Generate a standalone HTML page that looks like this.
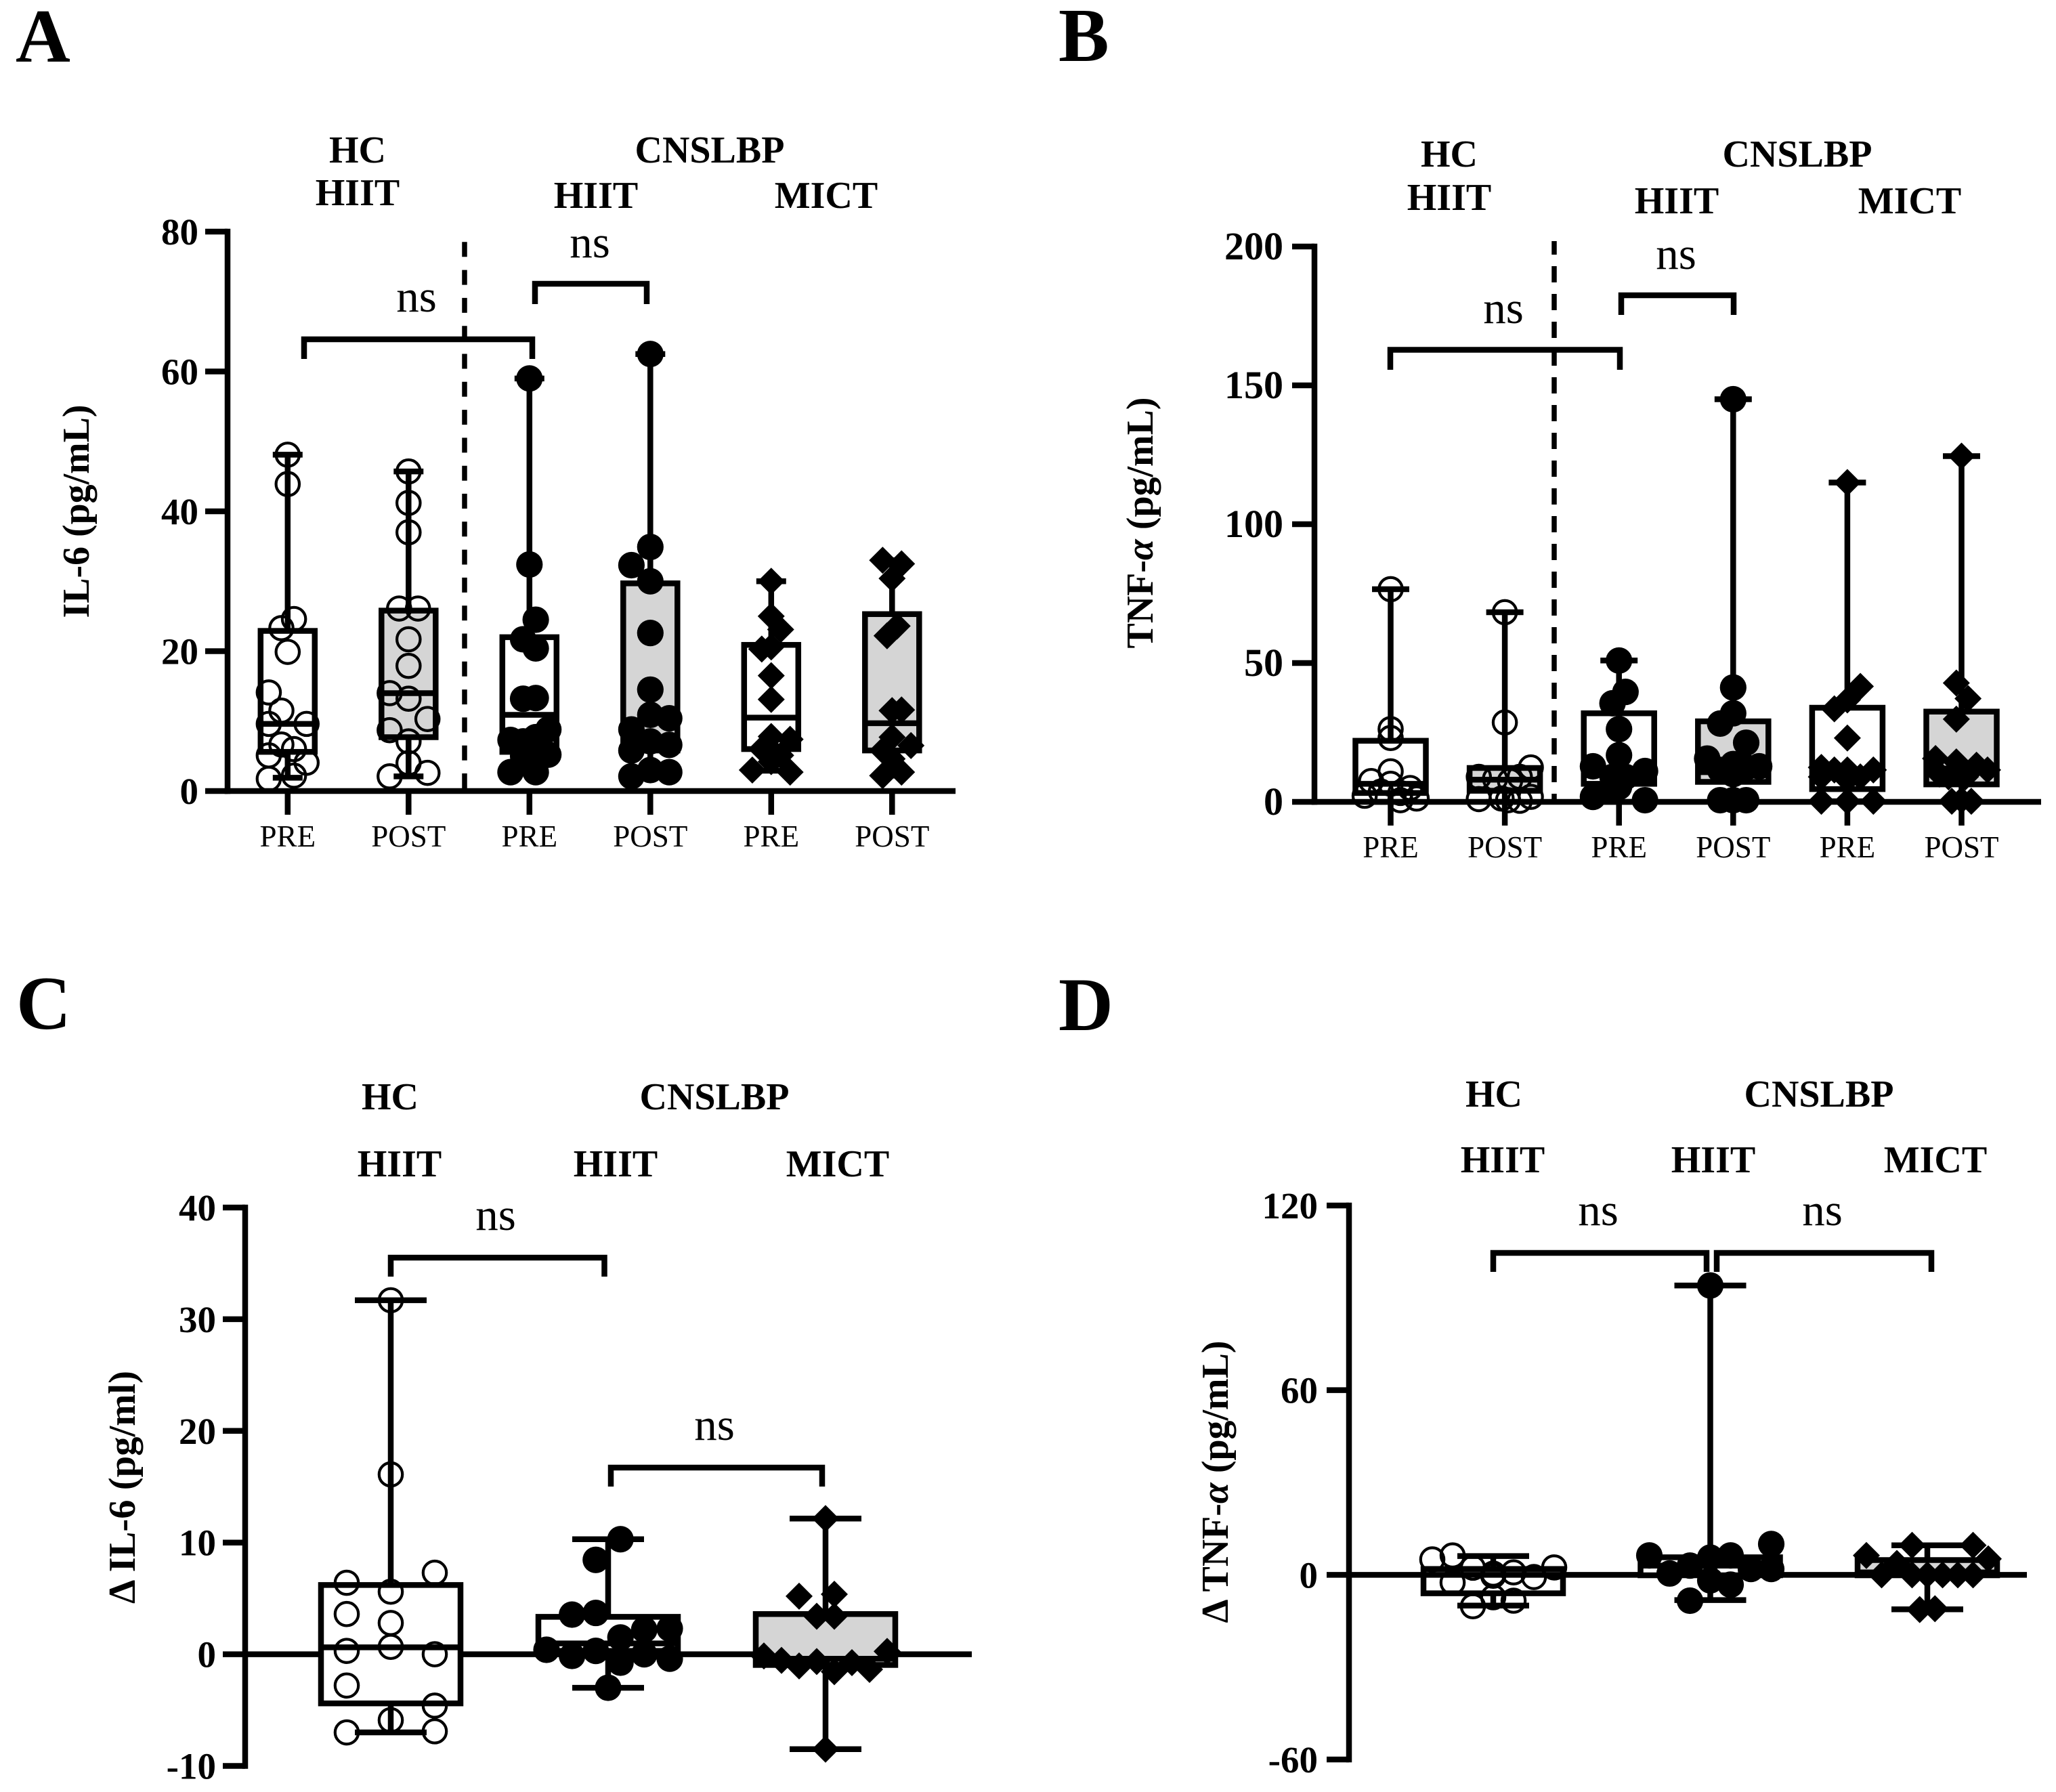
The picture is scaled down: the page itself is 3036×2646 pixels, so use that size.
<!DOCTYPE html>
<html lang="en">
<head>
<meta charset="utf-8">
<title>IL-6 and TNF-α box plots</title>
<style>
html,body{margin:0;padding:0;background:#fff}
svg{display:block}
text{font-family:"Liberation Serif",serif;fill:#000}
.hd{font-size:56px;font-weight:bold;text-anchor:middle}
.ns{font-size:67px;text-anchor:middle}
.pl{font-size:112px;font-weight:bold}
.yt{font-size:56px;font-weight:bold;text-anchor:middle}
.br{fill:none;stroke:#000;stroke-width:8.5}
</style>
</head>
<body>
<svg id="chart" xmlns="http://www.w3.org/2000/svg" width="3036" height="2646" viewBox="0 0 3036 2646">
<rect width="3036" height="2646" fill="#fff"/>

<g id="panelA">
<text class="pl" x="23" y="91">A</text>
<text class="hd" x="528" y="240">HC</text>
<text class="hd" x="528" y="303">HIIT</text>
<text class="hd" x="1048" y="240">CNSLBP</text>
<text class="hd" x="880" y="307">HIIT</text>
<text class="hd" x="1220" y="307">MICT</text>
<text class="yt" transform="translate(131 755) rotate(-90)" textLength="315" lengthAdjust="spacingAndGlyphs">IL-6 (pg/mL)</text>
<line x1="686" y1="342" x2="686" y2="1168" stroke="#000" stroke-width="7.5" stroke-dasharray="22 19.3" stroke-dashoffset="26"/>
<path class="br" d="M449 530V501H786V530"/>
<path class="br" d="M790 449V419H955V449"/>
<text class="ns" x="615" y="460">ns</text>
<text class="ns" x="871" y="380">ns</text>
</g>

<g id="panelB">
<text class="pl" x="1563" y="90">B</text>
<text class="hd" x="2140" y="246">HC</text>
<text class="hd" x="2140" y="310">HIIT</text>
<text class="hd" x="2654" y="246">CNSLBP</text>
<text class="hd" x="2476" y="315">HIIT</text>
<text class="hd" x="2820" y="315">MICT</text>
<text class="yt" transform="translate(1702 772) rotate(-90)" textLength="371" lengthAdjust="spacingAndGlyphs">TNF-<tspan font-style="italic">α</tspan> (pg/mL)</text>
<line x1="2295" y1="356" x2="2295" y2="1184" stroke="#000" stroke-width="7.5" stroke-dasharray="24 17" stroke-dashoffset="4"/>
<path class="br" d="M2053 546V516.5H2392V546"/>
<path class="br" d="M2394 465V436H2560V465"/>
<text class="ns" x="2220" y="477">ns</text>
<text class="ns" x="2475" y="397">ns</text>
</g>

<g id="panelC">
<text class="pl" x="24" y="1519">C</text>
<text class="hd" x="576" y="1638">HC</text>
<text class="hd" x="590" y="1737">HIIT</text>
<text class="hd" x="1055" y="1638">CNSLBP</text>
<text class="hd" x="909" y="1737">HIIT</text>
<text class="hd" x="1237" y="1737">MICT</text>
<text class="yt" transform="translate(199 2196) rotate(-90)" textLength="344" lengthAdjust="spacingAndGlyphs">Δ IL-6 (pg/ml)</text>
<path class="br" d="M577 1885V1857H892.5V1885"/>
<path class="br" d="M902 2195V2167H1214V2195"/>
<text class="ns" x="732" y="1816">ns</text>
<text class="ns" x="1055" y="2126">ns</text>
</g>

<g id="panelD">
<text class="pl" x="1563" y="1521">D</text>
<text class="hd" x="2206" y="1634">HC</text>
<text class="hd" x="2219" y="1731">HIIT</text>
<text class="hd" x="2686" y="1634">CNSLBP</text>
<text class="hd" x="2530" y="1731">HIIT</text>
<text class="hd" x="2858" y="1731">MICT</text>
<text class="yt" transform="translate(1813 2188) rotate(-90)" textLength="417" lengthAdjust="spacingAndGlyphs">Δ TNF-<tspan font-style="italic">α</tspan> (pg/mL)</text>
<path class="br" d="M2205 1878V1850H2520V1878"/>
<path class="br" d="M2535 1878V1850H2852V1878"/>
<text class="ns" x="2360" y="1809">ns</text>
<text class="ns" x="2691" y="1809">ns</text>
</g>
</svg>

<script>
/* ---------- Panel A: IL-6 ---------- */
const panelA_ticks = [0, 20, 40, 60, 80];
const panelA_categories = ['PRE', 'POST', 'PRE', 'POST', 'PRE', 'POST'];
const panelA_max = [48.1, 45.7, 59, 62.5, 30, 33];
const panelA_q3 = [22.9, 25.8, 22, 29.7, 20.9, 25.3];
const panelA_median = [9.6, 14, 10.9, 10, 10.5, 9.7];
const panelA_q1 = [5.6, 7.7, 5.6, 5.8, 6, 5.8];
const panelA_min = [1.9, 2.1, 2.7, 2.1, 2.9, 2.2];
const panelA_v0 = [48.1, 43.9, 24.6, 23.3, 19.9, 14.1, 11.5, 9.6, 9.6, 6.65, 6, 5.1, 4.05, 1.75, 2.2];
const panelA_c0 = [0, 0, 1, -1, 0, -3, -1, -3, 3, -1, 1, -3, 3, -3, 1];
const panelA_v1 = [45.7, 41.2, 37, 26.1, 26.1, 21.7, 17.9, 14, 13.2, 10.3, 8.7, 7.1, 4, 2.6, 2.1];
const panelA_c1 = [0, 0, 0, -1.5, 1.5, 0, 0, -3, 0, 3, -3, 0, 0, 3, -3];
const panelA_v2 = [59, 32.4, 24.5, 21.7, 20.4, 13.2, 13.3, 8.8, 7.3, 7.7, 7.1, 5.2, 5, 2.7, 2.7];
const panelA_c2 = [0, 0, 1, -1, 1, -1, 1, 3, -3, 1, -1, 3, -1, -3, 1];
const panelA_v3 = [62.5, 34.9, 32.3, 30, 22.6, 14.5, 10.9, 10.4, 8.8, 7.1, 6.6, 5.8, 3, 2.7, 2.1];
const panelA_c3 = [0, 0, -3, 0, 0, 0, 0, 3, -3, 0, 3, -3, 0, 3, -3];
const panelA_v4 = [30, 25, 23.1, 20.3, 20.6, 16.5, 13.1, 7.8, 7.4, 6, 5.9, 5.1, 3, 2.7, 4.2];
const panelA_c4 = [0, 0, 1.5, -1.5, 0, 0, 0, 0, 3, -1.5, 0, 1.5, -3, 3, 0];
const panelA_v5 = [33, 32.5, 30.4, 23.6, 22.2, 11.6, 11.5, 7.7, 6.5, 5.8, 4.6, 2.7, 2.2];
const panelA_c5 = [-1.5, 1.5, 0, 0.8, -0.8, 1.5, 0, 0, 3, -1.5, 0, 1.5, -1.5];

/* ---------- Panel B: TNF-alpha ---------- */
const panelB_ticks = [0, 50, 100, 150, 200];
const panelB_categories = ['PRE', 'POST', 'PRE', 'POST', 'PRE', 'POST'];
const panelB_max = [76.6, 68.3, 50.9, 145, 115, 124.5];
const panelB_q3 = [22, 12.2, 31.9, 29, 33.9, 32.5];
const panelB_median = [6.5, 8, 10, 10.7, 10.7, 12];
const panelB_q1 = [3.2, 4, 6.5, 7.2, 4.6, 6.3];
const panelB_min = [0, 0, 0, 0.6, 0.2, 0.2];
const panelB_v0 = [76.6, 26.2, 23, 11, 7.5, 6.5, 5, 3.7, 3.2, 2.2, 1.2, 0.6];
const panelB_c0 = [0, 0, 0, 0, -3, 0, 3, -1.5, 1.5, -4, 4, 1.5];
const panelB_v1 = [68.3, 28.6, 12.4, 9, 9, 8.3, 7.5, 1, 1.2, 1.8, 0.4, 0.6];
const panelB_c1 = [0, 0, 4, -4, 2.3, -1.5, 0.8, -4, -0.5, 4, 2.3, 0.5];
const panelB_v2 = [50.9, 39.6, 35.5, 26.2, 16.8, 12.8, 11.1, 9, 9, 1.8, 0.6, 5.4, 4.2];
const panelB_c2 = [0, 1, -1, 0, 0, -4, 4, -1, 1, -4, 4, 0, -1];
const panelB_v3 = [145, 41.2, 31.9, 28.2, 21.3, 15.6, 13.6, 12.8, 12.4, 11.5, 10, 0.6, 0.6, 0.6];
const panelB_c3 = [0, 0, 0, -2, 2, -4, 0, 4, 2, -2, 0, -2, 0, 2];
const panelB_v4 = [115, 41.6, 36.7, 33.5, 23, 12.4, 11.5, 11.5, 11.5, 9, 9, 8, 0.2, 0.2, 0.2];
const panelB_c4 = [0, 2, 0, -2, 0, -4, -2, 0, 4, 2, -4, 0, -4, 0, 4];
const panelB_v5 = [124.5, 42.8, 37.2, 29.8, 15.6, 14.4, 13.2, 11.5, 10, 9, 9, 0.2, 0.2, 0.6];
const panelB_c5 = [0, -0.8, 1, -0.8, -4, -0.8, 2.3, 4, -3.4, -2, 0.6, -1.5, 1.5, 0];

/* ---------- Panel C: change in IL-6 ---------- */
const panelC_ticks = [-10, 0, 10, 20, 30, 40];
const panelC_max = [31.7, 10.3, 12.15];
const panelC_q3 = [6.2, 3.35, 3.6];
const panelC_median = [0.62, 0.97, -0.4];
const panelC_q1 = [-4.4, 0.3, -0.96];
const panelC_min = [-7, -3, -8.5];
const panelC_v0 = [31.7, 16.1, 7.3, 6.4, 5.6, 3.6, 2.8, 0.66, 0.3, 0, -2.8, -4.6, -5.9, -6.9, -7];
const panelC_c0 = [0, 0, 5, -5, 0, -5, 0, 0, -5, 5, -5, 5, 0, 5, -5];
const panelC_v1 = [10.3, 8.45, 3.55, 3.7, 2.2, 2.3, 1.5, 0.4, 0.3, -0.15, 0, -0.4, -0.75, -3];
const panelC_c1 = [1.4, -1.4, -4.1, -1.4, 4.1, 7, 1.4, -7, -1.4, -4.1, 4.1, 7, 1.4, 0];
const panelC_v2 = [12.15, 5.2, 5.37, 3.4, 3.4, 0.26, -0.15, -0.55, -0.65, -1.05, -0.75, -1.36, -1.56, -8.5];
const panelC_c2 = [0, -3, 1, -1, 1, 7, -7, -5, -1, -3, 3, 5, 1, 0];

/* ---------- Panel D: change in TNF-alpha ---------- */
const panelD_ticks = [-60, 0, 60, 120];
const panelD_max = [6.1, 94, 9.6];
const panelD_q3 = [1.9, 5.7, 4.8];
const panelD_median = [0, 3, 0.8];
const panelD_q1 = [-6, -0.15, -0.15];
const panelD_min = [-10, -8.2, -11.2];
const panelD_v0 = [5, 6.3, 2.3, -0.3, 0.8, -0.7, 2.4, -2.5, -10.2, -7.3, -8.4, 0.4];
const panelD_c0 = [-12, -8, -4, 0, 4, 8, 12, -8, -4, 0, 4, 0];
const panelD_v1 = [94, 10, 6.3, 6.3, 5.6, 3, 1.9, 1.9, 0.44, -1.8, -3.2, -8.4];
const panelD_c1 = [0, 12, -12, 4, 0, -4, 8, 12, -8, 0, 4, -4];
const panelD_v2 = [9.6, 9.6, 6.3, 5.2, 3.7, 0, 0, 0, 0, 0, 0, -11.3, -11];
const panelD_c2 = [-3, 9, -12, 12, -6, -9, -3, 3, 6, 9, 0, -1.5, 1.5];

const SVGNS = 'http://www.w3.org/2000/svg';

function make(tag, parent, attrs) {
  const el = document.createElementNS(SVGNS, tag);
  for (const k in attrs) el.setAttribute(k, attrs[k]);
  parent.appendChild(el);
  return el;
}

function linearScale(d0, d1, p0, p1) {
  return function (v) { return p0 + (v - d0) * (p1 - p0) / (d1 - d0); };
}

function bandScale(first, step) {
  return function (i) { return first + i * step; };
}

function drawMarker(layer, kind, cx, cy) {
  let el;
  if (kind === 'open') {
    el = make('circle', layer, { cx: cx, cy: cy, r: 17.2, fill: 'none', stroke: '#000', 'stroke-width': 4.2 });
  } else if (kind === 'filled') {
    el = make('circle', layer, { cx: cx, cy: cy, r: 19.6, fill: '#000' });
  } else {
    const h = 20;
    el = make('path', layer, { d: 'M' + cx + ' ' + (cy - h) + 'L' + (cx + h) + ' ' + cy + 'L' + cx + ' ' + (cy + h) + 'L' + (cx - h) + ' ' + cy + 'Z', fill: '#000' });
  }
  
  
}

function drawPanel(rootId, cfg, ticks, categories, maxes, q3s, medians, q1s, mins, valueSets, colSets) {
  const root = document.getElementById(rootId);
  const y = linearScale(cfg.yDomain[0], cfg.yDomain[1], cfg.yPx[0], cfg.yPx[1]);
  const x = bandScale(cfg.xFirst, cfg.xStep);
  const zeroY = y(0);
  const sw = 8.5;

  const axisLayer = make('g', root, {});
  
  
  const fillLayer = make('g', root, {});
  
  
  const pointLayer = make('g', root, {});
  
  
  const boxLayer = make('g', root, {});
  
  

  const yAxis = make('line', axisLayer, { x1: cfg.axisX, x2: cfg.axisX, y1: cfg.yPx[1] - sw / 2, y2: cfg.yPx[0] + sw / 2, stroke: '#000', 'stroke-width': sw });
  
  
  const xAxis = make('line', axisLayer, { x1: cfg.axisX - sw / 2, x2: cfg.axisEnd, y1: zeroY, y2: zeroY, stroke: '#000', 'stroke-width': sw });
  
  

  ticks.forEach(function (t) {
    const tick = make('line', axisLayer, { x1: cfg.axisX - 33, x2: cfg.axisX, y1: y(t), y2: y(t), stroke: '#000', 'stroke-width': sw });
    
    
    const label = make('text', axisLayer, { x: cfg.axisX - cfg.labelGap, y: y(t) + 19, 'text-anchor': 'end', 'font-size': cfg.tickFont, 'font-weight': 'bold' });
    label.textContent = String(t);
    
    
  });

  categories.forEach(function (c, i) {
    const tick = make('line', axisLayer, { x1: x(i), x2: x(i), y1: zeroY, y2: zeroY + 35, stroke: '#000', 'stroke-width': sw });
    
    
    const label = make('text', axisLayer, { x: x(i), y: zeroY + 82, 'text-anchor': 'middle', 'font-size': 45 });
    label.textContent = c;
    
    
  });

  maxes.forEach(function (_, i) {
    const cx = x(i);
    const top = y(q3s[i]);
    const bot = y(q1s[i]);
    const fill = make('rect', fillLayer, { x: cx - cfg.boxHalf, y: top, width: cfg.boxHalf * 2, height: bot - top, fill: cfg.grey.indexOf(i) >= 0 ? '#d5d5d5' : '#fff' });
    
    

    valueSets[i].forEach(function (v, j) {
      drawMarker(pointLayer, cfg.kinds[i], cx + colSets[i][j] * cfg.colUnit, y(v));
    });

    const box = make('rect', boxLayer, { x: cx - cfg.boxHalf, y: top, width: cfg.boxHalf * 2, height: bot - top, fill: 'none', stroke: '#000', 'stroke-width': sw });
    
    
    const med = make('line', boxLayer, { x1: cx - cfg.boxHalf, x2: cx + cfg.boxHalf, y1: y(medians[i]), y2: y(medians[i]), stroke: '#000', 'stroke-width': sw });
    
    
    const upper = make('line', boxLayer, { x1: cx, x2: cx, y1: y(maxes[i]), y2: top, stroke: '#000', 'stroke-width': sw });
    
    
    const lower = make('line', boxLayer, { x1: cx, x2: cx, y1: bot, y2: y(mins[i]), stroke: '#000', 'stroke-width': sw });
    
    
    const capHi = make('line', boxLayer, { x1: cx - cfg.capHalf, x2: cx + cfg.capHalf, y1: y(maxes[i]), y2: y(maxes[i]), stroke: '#000', 'stroke-width': sw });
    
    
    const capLo = make('line', boxLayer, { x1: cx - cfg.capHalf, x2: cx + cfg.capHalf, y1: y(mins[i]), y2: y(mins[i]), stroke: '#000', 'stroke-width': sw });
    
    
  });
}

const sixKinds = ['open', 'open', 'filled', 'filled', 'diamond', 'diamond'];
const threeKinds = ['open', 'filled', 'diamond'];

drawPanel('panelA',
  { yDomain: [0, 80], yPx: [1168, 342], axisX: 336, axisEnd: 1411, xFirst: 424.8, xStep: 178.5, boxHalf: 40, capHalf: 22, colUnit: 9.3, grey: [1, 3, 5], kinds: sixKinds, labelGap: 43, tickFont: 55 },
  panelA_ticks, panelA_categories, panelA_max, panelA_q3, panelA_median, panelA_q1, panelA_min,
  [panelA_v0, panelA_v1, panelA_v2, panelA_v3, panelA_v4, panelA_v5],
  [panelA_c0, panelA_c1, panelA_c2, panelA_c3, panelA_c4, panelA_c5]);

drawPanel('panelB',
  { yDomain: [0, 200], yPx: [1184, 364], axisX: 1941, axisEnd: 3014, xFirst: 2053.5, xStep: 168.6, boxHalf: 52, capHalf: 27.5, colUnit: 9.6, grey: [1, 3, 5], kinds: sixKinds, labelGap: 46, tickFont: 58 },
  panelB_ticks, panelB_categories, panelB_max, panelB_q3, panelB_median, panelB_q1, panelB_min,
  [panelB_v0, panelB_v1, panelB_v2, panelB_v3, panelB_v4, panelB_v5],
  [panelB_c0, panelB_c1, panelB_c2, panelB_c3, panelB_c4, panelB_c5]);

drawPanel('panelC',
  { yDomain: [-10, 40], yPx: [2607.5, 1783], axisX: 362, axisEnd: 1435, xFirst: 577, xStep: 321, boxHalf: 103, capHalf: 53, colUnit: 13, grey: [2], kinds: threeKinds, labelGap: 43, tickFont: 55 },
  panelC_ticks, [], panelC_max, panelC_q3, panelC_median, panelC_q1, panelC_min,
  [panelC_v0, panelC_v1, panelC_v2],
  [panelC_c0, panelC_c1, panelC_c2]);

drawPanel('panelD',
  { yDomain: [-60, 120], yPx: [2598, 1780], axisX: 1992, axisEnd: 2993, xFirst: 2205, xStep: 320.5, boxHalf: 103, capHalf: 53, colUnit: 7.5, grey: [2], kinds: threeKinds, labelGap: 46, tickFont: 55 },
  panelD_ticks, [], panelD_max, panelD_q3, panelD_median, panelD_q1, panelD_min,
  [panelD_v0, panelD_v1, panelD_v2],
  [panelD_c0, panelD_c1, panelD_c2]);
</script>
</body>
</html>
